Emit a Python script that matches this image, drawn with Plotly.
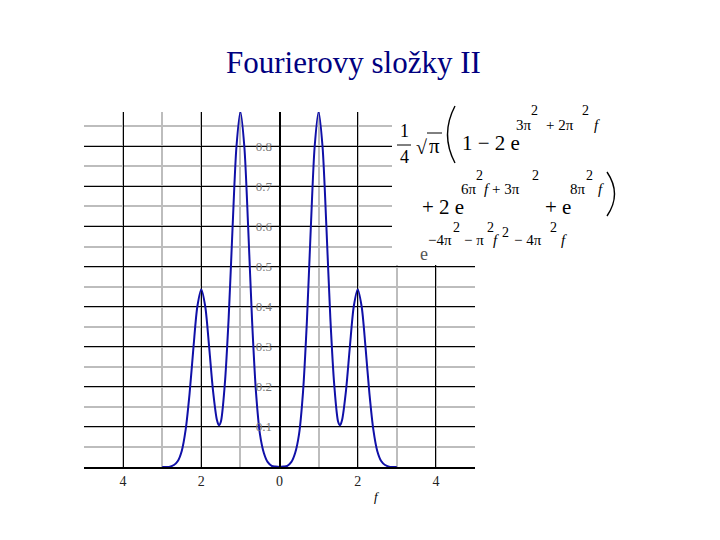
import plotly.graph_objects as go

# curve (f, value)
f_vals = [-3.0, -2.9, -2.8, -2.7, -2.6, -2.5, -2.4, -2.3, -2.2, -2.1,
          -2.0, -1.9, -1.8, -1.7, -1.6, -1.55, -1.5, -1.4, -1.3, -1.2, -1.1,
          -1.0, -0.9, -0.8, -0.7, -0.6, -0.5, -0.4, -0.3, -0.2, -0.1,
          0.0, 0.1, 0.2, 0.3, 0.4, 0.5, 0.6, 0.7, 0.8, 0.9,
          1.0, 1.1, 1.2, 1.3, 1.4, 1.5, 1.55, 1.6, 1.7, 1.8, 1.9,
          2.0, 2.1, 2.2, 2.3, 2.4, 2.5, 2.6, 2.7, 2.8, 2.9, 3.0]
y_vals = [0.000, 0.000, 0.001, 0.005, 0.015, 0.040, 0.093, 0.183, 0.299, 0.401,
          0.443, 0.401, 0.300, 0.190, 0.117, 0.104, 0.113, 0.205, 0.372, 0.598, 0.800,
          0.886, 0.800, 0.595, 0.362, 0.185, 0.082, 0.035, 0.012, 0.003, 0.001,
          0.000, 0.001, 0.003, 0.012, 0.035, 0.082, 0.185, 0.362, 0.595, 0.800,
          0.886, 0.800, 0.598, 0.372, 0.205, 0.113, 0.104, 0.117, 0.190, 0.300, 0.401,
          0.443, 0.401, 0.299, 0.183, 0.093, 0.040, 0.015, 0.005, 0.001, 0.000, 0.000]

x_ticks = [-4, -2, 0, 2, 4]
x_tick_text = ["4", "2", "0", "2", "4"]
y_ticks = [0.1, 0.2, 0.3, 0.4, 0.5, 0.6, 0.7, 0.8]
y_tick_text = ["0.1", "0.2", "0.3", "0.4", "0.5", "0.6", "0.7", "0.8"]

SERIF = "Liberation Serif, Times New Roman, serif"

# plot box in reference pixels; the page puts the figure 8px in from the corner
L, R, T, B = 84, 475, 112, 467
OFF = 8


def px(x):
    return (x - L) / (R - L)


def py(y):
    return (B - y) / (B - T)


fig = go.Figure()
fig.add_trace(go.Scatter(
    x=f_vals, y=y_vals, mode="lines",
    line=dict(color="#1010a8", width=2, shape="spline", smoothing=0.8),
    hoverinfo="skip",
))

fig.update_layout(
    width=720, height=540,
    margin=dict(l=L - OFF, r=720 - R + OFF, t=T - OFF, b=540 - B + OFF),
    paper_bgcolor="white", plot_bgcolor="white",
    showlegend=False,
    font=dict(family=SERIF, color="black"),
)

fig.update_xaxes(
    range=[-5, 5], tickvals=x_ticks, ticktext=x_tick_text,
    tickfont=dict(size=14, color="#222222"),
    showgrid=True, gridcolor="black", gridwidth=1.3,
    minor=dict(dtick=1, tick0=-5, showgrid=True, gridcolor="#bdbdbd", gridwidth=1.5),
    zeroline=False, showline=True, linecolor="black", linewidth=2,
    ticks="",
)
fig.update_yaxes(
    range=[0, 0.8855], tickvals=y_ticks, ticktext=y_tick_text,
    tickfont=dict(size=13, color="#7a7a7a"),
    showgrid=True, gridcolor="black", gridwidth=1.3,
    minor=dict(dtick=0.05, tick0=0, showgrid=True, gridcolor="#bdbdbd", gridwidth=1.5),
    zeroline=False, showline=True, linecolor="black", linewidth=2,
    anchor="free", position=0.5, ticks="", ticklabelstandoff=4,
)

# white box behind the formula
fig.add_shape(type="rect", xref="paper", yref="paper",
              x0=px(392), x1=px(720), y0=py(265), y1=py(95),
              fillcolor="white", line=dict(width=0), layer="above")


def ann(text, x, y, size, xanchor="left", color="black"):
    fig.add_annotation(text=text, xref="paper", yref="paper",
                       x=px(x), y=py(y), xanchor=xanchor, yanchor="middle",
                       showarrow=False, font=dict(family=SERIF, size=size, color=color))


def line(x0, y0, x1, y1):
    fig.add_shape(type="line", xref="paper", yref="paper",
                  x0=px(x0), x1=px(x1), y0=py(y0), y1=py(y1),
                  line=dict(color="black", width=1))


def paren(xe, xc, y0, y1):
    # tall thin bracket drawn as a quadratic curve
    ym = (y0 + y1) / 2
    path = (f"M {px(xe)},{py(y0)} Q {px(xc)},{py(ym)} {px(xe)},{py(y1)}")
    fig.add_shape(type="path", xref="paper", yref="paper", path=path,
                  line=dict(color="black", width=1.4))


# title
ann("Fourierovy složky II", 353, 63, 31, xanchor="center", color="#000080")

# axis label
ann("<i>f</i>", 377, 497, 13, xanchor="center")

# formula, line 1
ann("1", 404, 131, 18, xanchor="center")
ann("4", 404, 157, 18, xanchor="center")
line(397, 145, 411, 145)
ann("√", 414, 147, 20)
line(427, 133, 442, 133)
ann("π", 427, 146, 21)
paren(455, 440, 106, 163)
ann("1 − 2 e", 460, 143, 21)
ann("3π", 514, 125, 15)
ann("2", 529, 110, 14)
ann("+ 2π", 544, 125, 15)
ann("2", 580, 110, 14)
ann("<i>f</i>", 592, 125, 15)

# line 2
ann("+ 2 e", 420, 207, 21)
ann("6π", 459, 189, 15)
ann("2", 474, 175, 14)
ann("<i>f</i> + 3π", 482, 189, 15)
ann("2", 530, 175, 14)
ann("+ e", 543, 207, 21)
ann("8π", 568, 189, 15)
ann("2", 584, 175, 14)
ann("<i>f</i>", 596, 189, 15)
paren(607, 622, 172, 216)

# line 3
ann("e", 418, 254, 18, color="#555555")
ann("−4π", 426, 240, 15)
ann("2", 451, 227, 14)
ann("− π", 462, 240, 15)
ann("2", 485, 227, 14)
ann("<i>f</i>", 491, 240, 15)
ann("2", 500, 232, 14)
ann("− 4π", 512, 240, 15)
ann("2", 548, 227, 14)
ann("<i>f</i>", 559, 240, 15)

fig.write_html("out.html")
